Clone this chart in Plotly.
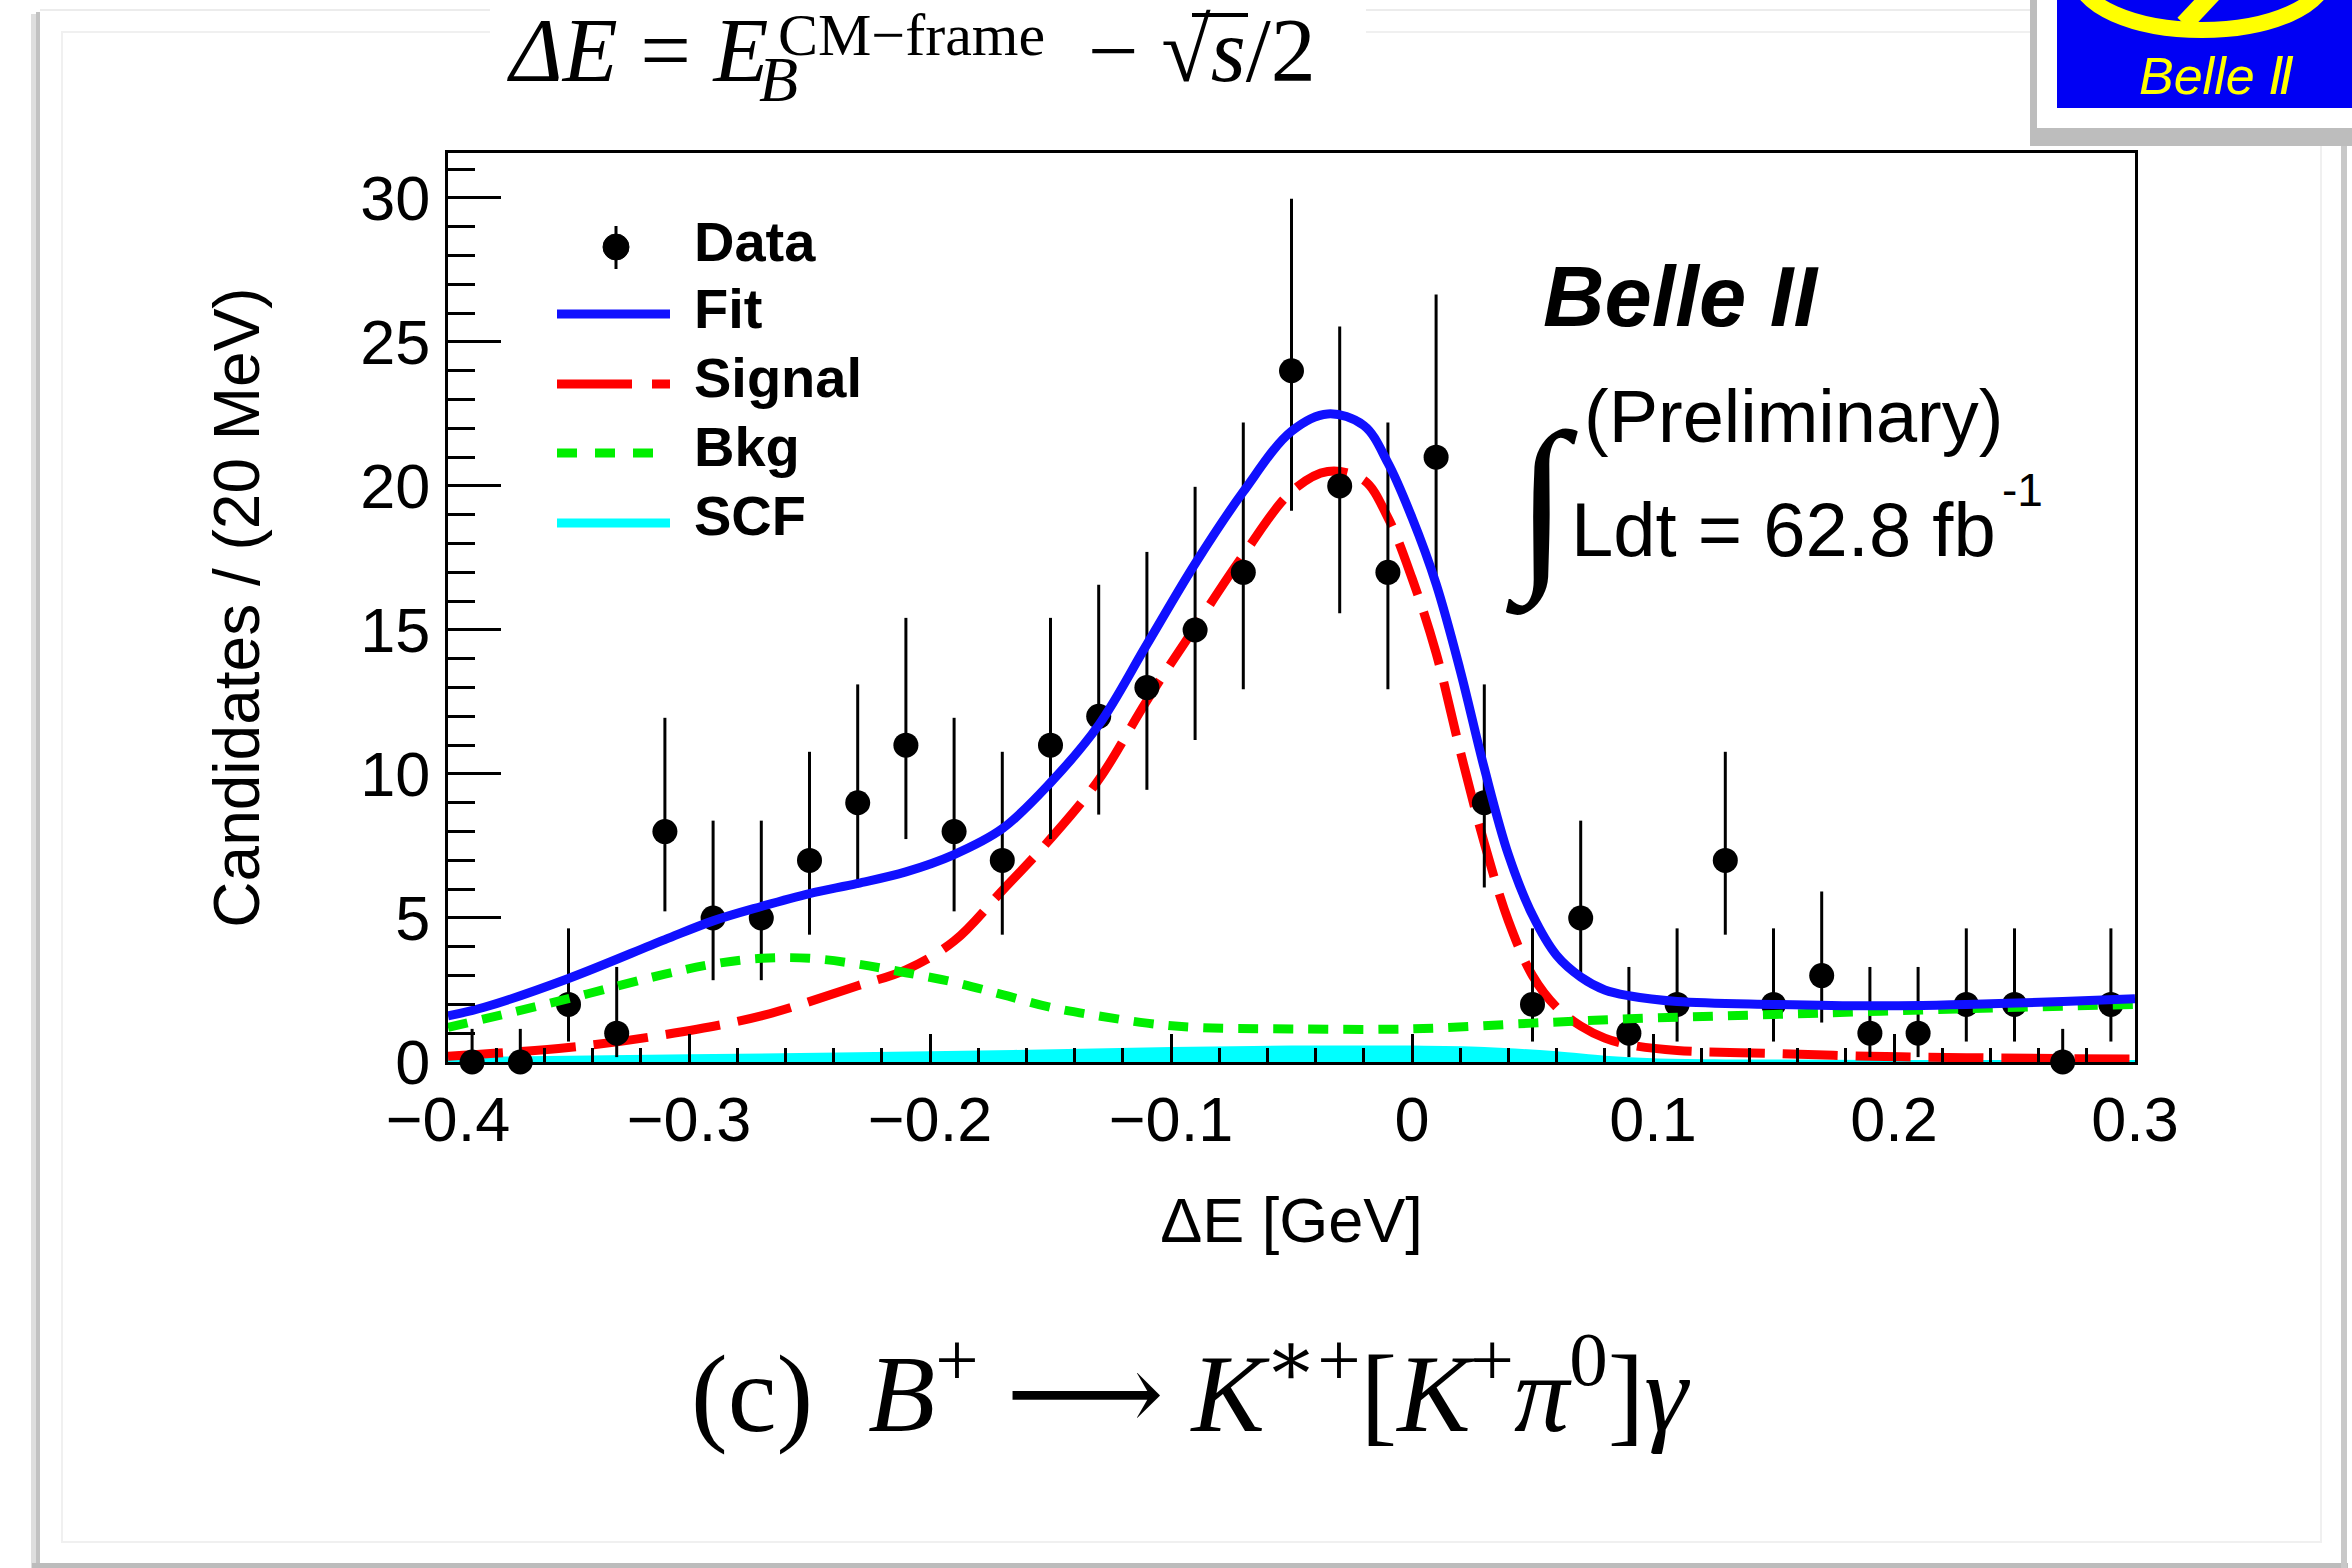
import plotly.graph_objects as go

# ---------------- data ----------------
bin_centers = [-0.39, -0.37, -0.35, -0.33, -0.31, -0.29, -0.27, -0.25, -0.23, -0.21,
               -0.19, -0.17, -0.15, -0.13, -0.11, -0.09, -0.07, -0.05, -0.03, -0.01,
               0.01, 0.03, 0.05, 0.07, 0.09, 0.11, 0.13, 0.15, 0.17, 0.19,
               0.21, 0.23, 0.25, 0.27, 0.29]
counts = [0, 0, 2, 1, 8, 5, 5, 7, 9, 11,
          8, 7, 11, 12, 13, 15, 17, 24, 20, 17,
          21, 9, 2, 5, 1, 2, 7, 2, 3, 1,
          1, 2, 2, 0, 2]
err_up = [1.15, 1.15, 2.64, 2.30, 3.95, 3.38, 3.38, 3.77, 4.11, 4.42,
          3.95, 3.77, 4.42, 4.57, 4.71, 4.97, 5.20, 5.97, 5.54, 5.20,
          5.65, 4.11, 2.64, 3.38, 2.30, 2.64, 3.77, 2.64, 2.92, 2.30,
          2.30, 2.64, 2.64, 1.15, 2.64]
err_lo = [0, 0, 1.29, 0.83, 2.77, 2.16, 2.16, 2.58, 2.94, 3.26,
          2.77, 2.58, 3.26, 3.41, 3.55, 3.82, 4.06, 4.86, 4.42, 4.06,
          4.53, 2.94, 1.29, 2.16, 0.83, 1.29, 2.58, 1.29, 1.63, 0.83,
          0.83, 1.29, 1.29, 0, 1.29]

fit_x = [-0.40, -0.385, -0.35, -0.31, -0.29, -0.27, -0.25, -0.23, -0.21, -0.19,
         -0.17, -0.15, -0.13, -0.11, -0.09, -0.07, -0.05, -0.035, -0.02, -0.01,
         0.0, 0.01, 0.02, 0.03, 0.04, 0.05, 0.06, 0.07, 0.08, 0.09,
         0.11, 0.15, 0.19, 0.23, 0.27, 0.30]
fit_y = [1.6, 1.9, 2.9, 4.25, 4.9, 5.4, 5.85, 6.2, 6.6, 7.2,
         8.1, 9.7, 11.7, 14.5, 17.3, 19.8, 21.9, 22.5, 22.1, 20.8,
         18.9, 16.6, 13.6, 10.2, 7.2, 5.1, 3.7, 2.95, 2.5, 2.3,
         2.1, 2.0, 1.95, 2.0, 2.1, 2.2]

sig_x = [-0.40, -0.35, -0.31, -0.27, -0.23, -0.21, -0.19, -0.17, -0.15, -0.13,
         -0.11, -0.09, -0.07, -0.05, -0.035, -0.02, -0.01, 0.0, 0.01, 0.02,
         0.03, 0.04, 0.05, 0.06, 0.07, 0.08, 0.09, 0.11, 0.15, 0.19, 0.23, 0.30]
sig_y = [0.2, 0.5, 0.95, 1.6, 2.65, 3.2, 4.2, 5.95, 7.75, 9.8,
         12.55, 15.1, 17.6, 19.8, 20.5, 20.2, 18.9, 16.8, 14.2, 10.8,
         7.6, 4.9, 3.0, 1.9, 1.25, 0.83, 0.6, 0.4, 0.3, 0.2, 0.15, 0.1]

bkg_x = [-0.40, -0.35, -0.31, -0.29, -0.27, -0.25, -0.23, -0.21, -0.19, -0.17,
         -0.15, -0.13, -0.11, -0.09, -0.05, 0.0, 0.05, 0.09, 0.15, 0.23, 0.30]
bkg_y = [1.2, 2.2, 3.05, 3.4, 3.6, 3.6, 3.4, 3.1, 2.77, 2.34,
         1.9, 1.6, 1.35, 1.2, 1.15, 1.15, 1.35, 1.5, 1.65, 1.85, 2.0]

scf_x = [-0.40, -0.30, -0.20, -0.10, -0.05, 0.0, 0.03, 0.06, 0.08, 0.10, 0.13, 0.20, 0.30]
scf_y = [0.1, 0.2, 0.3, 0.45, 0.5, 0.5, 0.45, 0.3, 0.15, 0.06, 0.02, 0.0, 0.0]

x_range = [-0.4, 0.3]
y_range = [0, 31.56]

legend_labels = ["Data", "Fit", "Signal", "Bkg", "SCF"]

# ---------------- geometry helpers (pixel -> paper) ----------------
W, H = 2352, 1568
L, R, T, B = 448, 2135, 153, 1062


def X(px):
    return (px - L) / (R - L)


def Y(py):
    return (B - py) / (B - T)


BLUE = "#1010ff"
RED = "#ff0000"
GREEN = "#00ee00"
CYAN = "#00ffff"

fig = go.Figure()

fig.add_trace(go.Scatter(x=scf_x, y=scf_y, mode="lines", line=dict(color=CYAN, width=4, shape="spline"),
                         fill="tozeroy", fillcolor=CYAN, name="SCF", showlegend=False))
fig.add_trace(go.Scatter(x=sig_x, y=sig_y, mode="lines",
                         line=dict(color=RED, width=9, dash="55px,18px", shape="spline"),
                         name="Signal", showlegend=False))
fig.add_trace(go.Scatter(x=bin_centers, y=counts, mode="markers",
                         marker=dict(color="black", size=25, symbol="circle"),
                         error_y=dict(type="data", symmetric=False, array=err_up, arrayminus=err_lo,
                                      color="black", thickness=3, width=0),
                         cliponaxis=False, name="Data", showlegend=False))
fig.add_trace(go.Scatter(x=bkg_x, y=bkg_y, mode="lines",
                         line=dict(color=GREEN, width=9, dash="20px,15px", shape="spline"),
                         name="Bkg", showlegend=False))
fig.add_trace(go.Scatter(x=fit_x, y=fit_y, mode="lines",
                         line=dict(color=BLUE, width=9, shape="spline"),
                         name="Fit", showlegend=False))

shapes = []
annos = []


def rect(x0, y0, x1, y1, fill, line=None, lw=0):
    shapes.append(dict(type="rect", xref="paper", yref="paper", x0=X(x0), x1=X(x1), y0=Y(y1), y1=Y(y0),
                       fillcolor=fill, line=dict(color=line or fill, width=lw), layer="above"))


def hline(x0, x1, y, color, w, dash="solid"):
    shapes.append(dict(type="line", xref="paper", yref="paper", x0=X(x0), x1=X(x1), y0=Y(y), y1=Y(y),
                       line=dict(color=color, width=w, dash=dash), layer="above"))


def vline(x, y0, y1, color, w):
    shapes.append(dict(type="line", xref="paper", yref="paper", x0=X(x), x1=X(x), y0=Y(y0), y1=Y(y1),
                       line=dict(color=color, width=w), layer="above"))


# ---------------- slide card ----------------
rect(31, 14, 36, 1568, "#dedede")
rect(36, 12, 40, 1568, "#c2c2c2")
rect(32, 1563, 2348, 1568, "#bcbcbc")
rect(2341, 12, 2347, 1568, "#c8c8c8")
hline(40, 2341, 10, "#ececec", 2)
shapes.append(dict(type="rect", xref="paper", yref="paper", x0=X(62), x1=X(2321), y0=Y(1542), y1=Y(32),
                   line=dict(color="#f0f0f0", width=2), fillcolor="rgba(0,0,0,0)", layer="above"))
rect(490, 0, 1366, 62, "white")

# ---------------- Belle II logo ----------------
rect(2030, 0, 2352, 146, "#bdbdbd")
rect(2037, 0, 2352, 128, "white")
rect(2057, 0, 2352, 108, "#0000f4")
shapes.append(dict(type="circle", xref="paper", yref="paper", x0=X(2078), x1=X(2326), y0=Y(30), y1=Y(-80),
                   line=dict(color="#ffff00", width=16), fillcolor="rgba(0,0,0,0)", layer="above"))
shapes.append(dict(type="line", xref="paper", yref="paper", x0=X(2184), x1=X(2216), y0=Y(24), y1=Y(-10),
                   line=dict(color="#ffff00", width=18), layer="above"))
annos.append(dict(text="<i>Belle Ⅱ</i>", x=X(2217), y=Y(76), xref="paper", yref="paper",
                  xanchor="center", yanchor="middle", showarrow=False,
                  font=dict(family="Liberation Sans, DejaVu Sans", size=52, color="#ffff00")))

# ---------------- legend (drawn by hand) ----------------
shapes.append(dict(type="circle", xref="paper", yref="paper", x0=X(603), x1=X(629), y0=Y(260), y1=Y(234),
                   fillcolor="black", line=dict(color="black", width=1), layer="above"))
vline(616, 226, 269, "black", 3)
hline(557, 670, 314, BLUE, 9)
hline(557, 670, 384, RED, 9, "75px,20px")
hline(557, 670, 453, GREEN, 9, "20px,18px")
hline(557, 670, 523, CYAN, 9)
for lab, yc in zip(legend_labels, [241, 308, 377, 446, 515]):
    annos.append(dict(text="<b>%s</b>" % lab, x=X(692), y=Y(yc), xref="paper", yref="paper",
                      xanchor="left", yanchor="middle", showarrow=False,
                      font=dict(family="Liberation Sans", size=56, color="black")))

# ---------------- Belle II label / luminosity ----------------
annos.append(dict(text="<b><i>Belle II</i></b>", x=X(1541), y=Y(296), xref="paper", yref="paper",
                  xanchor="left", yanchor="middle", showarrow=False,
                  font=dict(family="Liberation Sans", size=85, color="black")))
annos.append(dict(text="(Preliminary)", x=X(1582), y=Y(416), xref="paper", yref="paper",
                  xanchor="left", yanchor="middle", showarrow=False,
                  font=dict(family="Liberation Sans", size=74, color="black")))
annos.append(dict(text="Ldt = 62.8 fb", x=X(1569), y=Y(529), xref="paper", yref="paper",
                  xanchor="left", yanchor="middle", showarrow=False,
                  font=dict(family="Liberation Sans", size=76, color="black")))
annos.append(dict(text="-1", x=X(2000), y=Y(490), xref="paper", yref="paper",
                  xanchor="left", yanchor="middle", showarrow=False,
                  font=dict(family="Liberation Sans", size=46, color="black")))
annos.append(dict(text="∫", x=X(1541), y=Y(502), xref="paper", yref="paper",
                  xanchor="center", yanchor="middle", showarrow=False,
                  font=dict(family="DejaVu Sans", size=190, color="black", weight=200)))

# ---------------- formula at top ----------------
SERIF = "Liberation Serif, DejaVu Serif"
annos.append(dict(text="<i>ΔE</i> = <i>E</i>", x=X(505), y=Y(51), xref="paper", yref="paper",
                  xanchor="left", yanchor="middle", showarrow=False,
                  font=dict(family=SERIF, size=90, color="black")))
annos.append(dict(text="<i>B</i>", x=X(757), y=Y(80), xref="paper", yref="paper",
                  xanchor="left", yanchor="middle", showarrow=False,
                  font=dict(family=SERIF, size=64, color="black")))
annos.append(dict(text="CM−frame", x=X(776), y=Y(35), xref="paper", yref="paper",
                  xanchor="left", yanchor="middle", showarrow=False,
                  font=dict(family=SERIF, size=60, color="black")))
annos.append(dict(text="−\u00a0√<i>s</i>/2", x=X(1086), y=Y(51), xref="paper", yref="paper",
                  xanchor="left", yanchor="middle", showarrow=False,
                  font=dict(family=SERIF, size=90, color="black")))
hline(1192, 1248, 15, "black", 4)

# ---------------- caption ----------------
annos.append(dict(text="(c)\u00a0\u00a0<i>B</i><sup>+</sup>\u00a0⟶\u00a0<i>K</i><sup>∗+</sup>[<i>K</i><sup>+</sup><i>π</i><sup>0</sup>]<i>γ</i>",
                  x=X(1190), y=Y(1386), xref="paper", yref="paper",
                  xanchor="center", yanchor="middle", showarrow=False,
                  font=dict(family="Liberation Serif, DejaVu Serif, DejaVu Sans", size=110, color="black")))

tickfont = dict(family="Liberation Sans", size=63, color="black")
fig.update_layout(
    width=W, height=H,
    margin=dict(l=L, r=W - R, t=T, b=H - B, autoexpand=False),
    paper_bgcolor="white", plot_bgcolor="white",
    showlegend=False,
    shapes=shapes, annotations=annos,
    xaxis=dict(range=x_range, dtick=0.1, tick0=0, ticks="inside", ticklen=28, tickwidth=3, tickcolor="black",
               minor=dict(dtick=0.02, ticks="inside", ticklen=14, tickwidth=3, tickcolor="black"),
               showline=True, linecolor="black", linewidth=3, mirror=True, showgrid=False, zeroline=False,
               tickfont=tickfont, ticklabelstandoff=0,
               title=dict(text="ΔE [GeV]", font=dict(family="Liberation Sans", size=63, color="black"),
                          standoff=46)),
    yaxis=dict(range=y_range, dtick=5, tick0=0, ticks="inside", ticklen=53, tickwidth=3, tickcolor="black",
               minor=dict(dtick=1, ticks="inside", ticklen=27, tickwidth=3, tickcolor="black"),
               showline=True, linecolor="black", linewidth=3, mirror=True, showgrid=False, zeroline=False,
               tickfont=tickfont, ticklabelstandoff=2,
               title=dict(text="Candidates / (20 MeV)", font=dict(family="Liberation Sans", size=64, color="black"),
                          standoff=80)),
)

fig.write_html("out.html")
